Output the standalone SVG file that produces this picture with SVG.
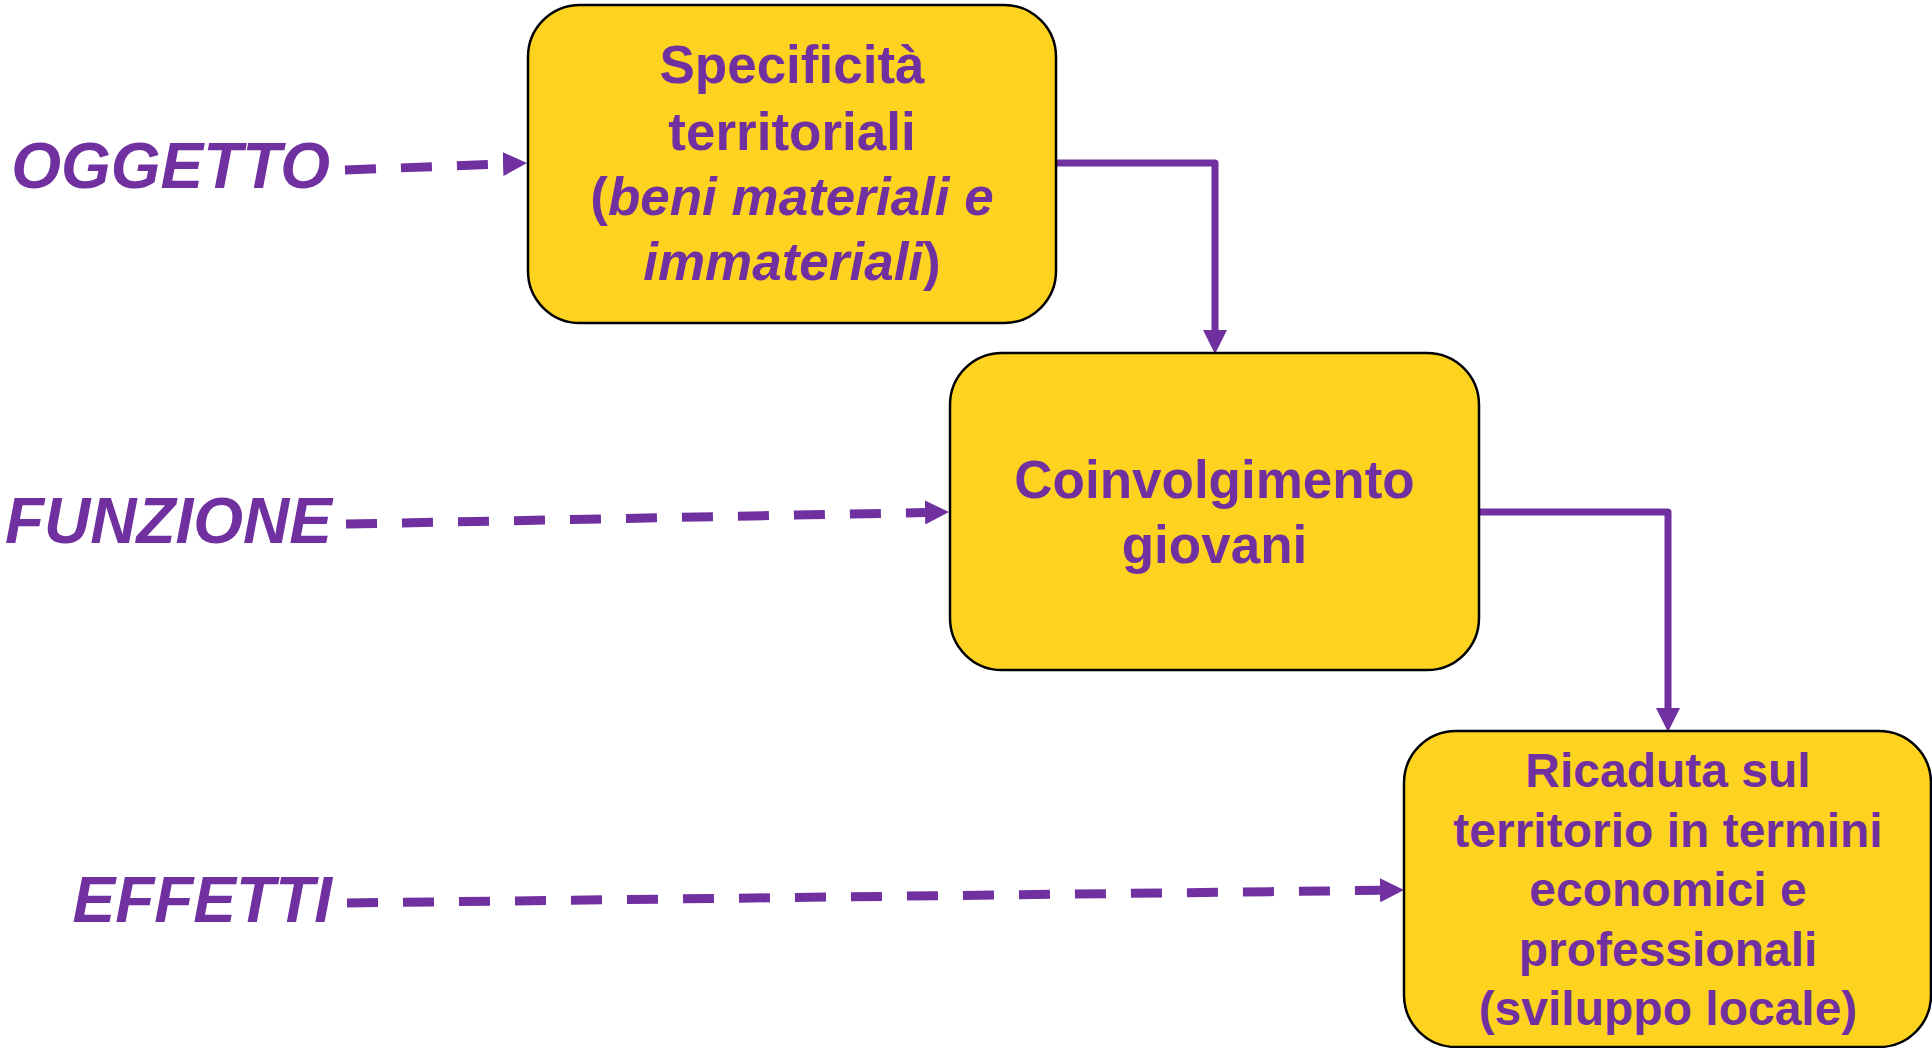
<svg xmlns="http://www.w3.org/2000/svg" width="1932" height="1048" viewBox="0 0 1932 1048">
<style>
.box{fill:#FED320;stroke:#000;stroke-width:2.5}
.t{font-family:"Liberation Sans",Arial,sans-serif;font-weight:bold;fill:#7030A0;text-anchor:middle}
.lbl{font-family:"Liberation Sans",Arial,sans-serif;font-weight:bold;font-style:italic;fill:#7030A0;text-anchor:end;font-size:64px}
.dash{fill:none;stroke:#7030A0;stroke-width:9;stroke-dasharray:31 25}
.solid{fill:none;stroke:#7030A0;stroke-width:7;stroke-linejoin:round}
</style>
<defs>
<marker id="ah" viewBox="0 0 24 24" markerWidth="24" markerHeight="24" refX="0" refY="12" orient="auto" markerUnits="userSpaceOnUse">
<path d="M0,0 L24,12 L0,24 z" fill="#7030A0"/>
</marker>
</defs>
<rect width="1932" height="1048" fill="#fff"/>
<g id="connectors">
<path class="dash" d="M345,170 L503,164" marker-end="url(#ah)"/>
<path class="dash" d="M346,524 L925,512.5" marker-end="url(#ah)"/>
<path class="dash" d="M347,903 L1380,890.3" marker-end="url(#ah)"/>
<path class="solid" d="M1056,163 H1215 V330" marker-end="url(#ah)"/>
<path class="solid" d="M1479,512 H1668 V708" marker-end="url(#ah)"/>
</g>
<g id="label-oggetto"><text class="lbl" x="330" y="188">OGGETTO</text></g>
<g id="label-funzione"><text class="lbl" x="332" y="543">FUNZIONE</text></g>
<g id="label-effetti"><text class="lbl" x="332" y="922">EFFETTI</text></g>
<g id="node-specificita">
<rect class="box" x="528" y="5" width="528" height="318" rx="52" ry="52"/>
<text class="t" font-size="53" x="792" y="83">Specificità</text>
<text class="t" font-size="53" x="792" y="150">territoriali</text>
<text class="t" font-size="53" x="792" y="215">(<tspan font-style="italic">beni materiali e</tspan></text>
<text class="t" font-size="53" x="792" y="280"><tspan font-style="italic">immateriali</tspan>)</text>
</g>
<g id="node-coinvolgimento">
<rect class="box" x="950" y="353" width="529" height="317" rx="52" ry="52"/>
<text class="t" font-size="53" x="1214.5" y="498">Coinvolgimento</text>
<text class="t" font-size="53" x="1214.5" y="563">giovani</text>
</g>
<g id="node-ricaduta">
<rect class="box" x="1404" y="731" width="527" height="316" rx="52" ry="52"/>
<text class="t" font-size="48" x="1668" y="787">Ricaduta sul</text>
<text class="t" font-size="48" x="1668" y="847">territorio in termini</text>
<text class="t" font-size="48" x="1668" y="906">economici e</text>
<text class="t" font-size="48" x="1668" y="966">professionali</text>
<text class="t" font-size="48" x="1668" y="1025">(sviluppo locale)</text>
</g>
</svg>
